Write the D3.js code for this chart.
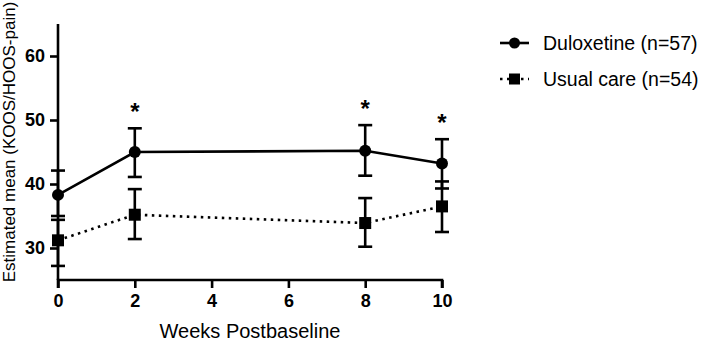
<!DOCTYPE html>
<html><head><meta charset="utf-8">
<script src="https://cdn.jsdelivr.net/npm/d3@7"></script>
<style>body{margin:0;background:#fff}svg{display:block}text{font-family:"Liberation Sans",Arial,sans-serif;fill:#000}</style>
</head><body><svg id="c" width="708" height="343"></svg>
<script>
const weeks = [0, 2, 8, 10];
const duloxMean = [38.3, 45.0, 45.2, 43.2];
const duloxLow  = [35.0, 41.1, 41.3, 39.3];
const duloxHigh = [42.1, 48.7, 49.2, 47.0];
const usualMean = [31.2, 35.2, 33.9, 36.5];
const usualLow  = [27.2, 31.4, 30.2, 32.5];
const usualHigh = [34.4, 39.2, 37.8, 40.4];
const significant = [false, true, true, true];
const xTicks = [0, 2, 4, 6, 8, 10];
const yTicks = [30, 40, 50, 60];
const seriesNames = ["Duloxetine (n=57)", "Usual care (n=54)"];

const svg = d3.select("#c");
const x = d3.scaleLinear().domain([0, 10]).range([58, 442]);
const y = d3.scaleLinear().domain([25, 65]).range([280, 24]);

// axes
const gx = svg.append("g").attr("transform", `translate(0,${y(25)})`)
  .call(d3.axisBottom(x).tickValues(xTicks).tickSize(8).tickPadding(6).tickFormat(d3.format("d")));
const gy = svg.append("g").attr("transform", `translate(${x(0)},0)`)
  .call(d3.axisLeft(y).tickValues(yTicks).tickSize(8).tickPadding(5).tickFormat(d3.format("d")));
[gx, gy].forEach(g => {
  g.select(".domain").attr("stroke", "#000").attr("stroke-width", 2.6);
  g.selectAll(".tick line").attr("stroke", "#000").attr("stroke-width", 2.6);
  g.selectAll(".tick text").attr("font-size", 18).attr("font-weight", "bold")
    .attr("font-family", "Liberation Sans, Arial, sans-serif").attr("fill", "#000");
});
gx.select(".domain").attr("d", `M${x(0)},8V0H${x(10)}V8`);
gy.select(".domain").attr("d", `M-0,${y(25)}V${y(65)}`);

svg.append("text").attr("x", 250).attr("y", 338).attr("text-anchor", "middle")
  .attr("font-size", 20).text("Weeks Postbaseline");
svg.append("text").attr("transform", `translate(15,${142}) rotate(-90)`).attr("text-anchor", "middle")
  .attr("font-size", 17).text("Estimated mean (KOOS/HOOS-pain)");

const series = [
  {mean: duloxMean, low: duloxLow, high: duloxHigh, dash: null, shape: "circle"},
  {mean: usualMean, low: usualLow, high: usualHigh, dash: "2.5,4.5", shape: "square"}
];
const line = d3.line().x((d, i) => x(weeks[i])).y(d => y(d));

series.forEach(s => {
  svg.append("path").attr("d", line(s.mean)).attr("fill", "none").attr("stroke", "#000")
    .attr("stroke-width", 2.6).attr("stroke-dasharray", s.dash);
});
series.forEach(s => {
  weeks.forEach((w, i) => {
    const g = svg.append("g").attr("stroke", "#000").attr("stroke-width", 2.6);
    g.append("line").attr("x1", x(w)).attr("x2", x(w)).attr("y1", y(s.low[i])).attr("y2", y(s.high[i]));
    [s.low[i], s.high[i]].forEach(v => g.append("line").attr("x1", x(w) - 7).attr("x2", x(w) + 7)
      .attr("y1", y(v)).attr("y2", y(v)));
    if (s.shape === "circle") svg.append("circle").attr("cx", x(w)).attr("cy", y(s.mean[i])).attr("r", 6);
    else svg.append("rect").attr("x", x(w) - 6).attr("y", y(s.mean[i]) - 6).attr("width", 12).attr("height", 12);
  });
});

// significance stars
weeks.forEach((w, i) => {
  if (!significant[i]) return;
  svg.append("text").attr("x", x(w)).attr("y", y(duloxHigh[i]) - 8).attr("text-anchor", "middle")
    .attr("font-size", 24).attr("font-weight", "bold").text("*");
});

// legend
seriesNames.forEach((name, i) => {
  const ly = 43 + i * 36;
  const g = svg.append("g");
  g.append("line").attr("x1", 500).attr("x2", 529).attr("y1", ly).attr("y2", ly)
    .attr("stroke", "#000").attr("stroke-width", 2.6).attr("stroke-dasharray", series[i].dash);
  if (series[i].shape === "circle") g.append("circle").attr("cx", 514.5).attr("cy", ly).attr("r", 5.5);
  else g.append("rect").attr("x", 509).attr("y", ly - 5.5).attr("width", 11).attr("height", 11);
  g.append("text").attr("x", 543).attr("y", ly + 7).attr("font-size", 19.5).text(name);
});
</script></body></html>
